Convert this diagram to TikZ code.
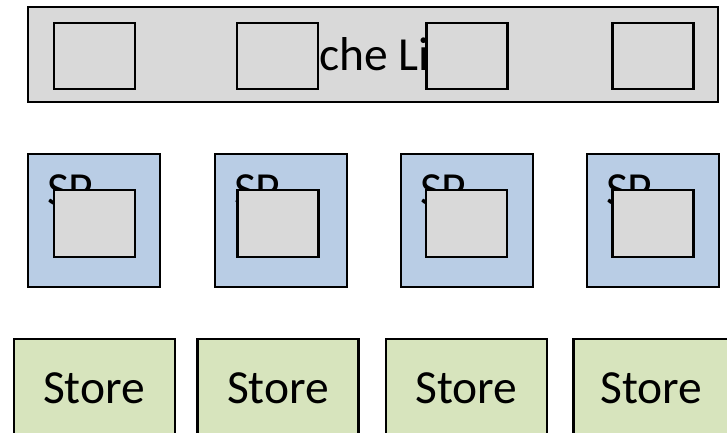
\documentclass[tikz,border=0pt]{standalone}
\usepackage{fontspec}
\setmainfont{Carlito}
\definecolor{cachegray}{HTML}{D9D9D9}
\definecolor{spblue}{HTML}{B9CDE5}
\definecolor{storegreen}{HTML}{D7E4BD}
\begin{document}
\begin{tikzpicture}[x=1pt,y=-1pt,
  boxbase/.style={draw=black, line width=2.6pt, inner sep=0pt, outer sep=0pt, rectangle},
  linebar/.style={boxbase, fill=cachegray, minimum width=690pt, minimum height=95pt},
  slot/.style={boxbase, fill=cachegray, minimum width=81pt, minimum height=66pt},
  spbox/.style={boxbase, fill=spblue, minimum width=132pt, minimum height=133pt},
  storebox/.style={boxbase, fill=storegreen, minimum width=161pt, minimum height=101pt},
  bigtext/.style={inner sep=0pt, outer sep=0pt, font=\fontsize{47.5}{52}\selectfont}
]
\useasboundingbox (0,0) rectangle (727,432);
\clip (0,0) rectangle (727,432);
\fill[white] (0,0) rectangle (727,432);

% cache line bar with its slots
\node[linebar] (bar) at (373,54.5) {};
\node[bigtext, anchor=base west] (bartext) at (319,70.5) {che Li};
\node[slot] (c1) at (94.5,56) {};
\node[slot] (c2) at (277.5,56) {};
\node[slot] (c3) at (467,56) {};
\node[slot] (c4) at (653,56) {};

% SP units, each holding a slot
\foreach \i/\x/\ix in {1/94/94.5, 2/281/278, 3/467/466.5, 4/653/653} {
  \node[spbox] (sp\i) at (\x,220.5) {};
  \node[bigtext, anchor=base west] (spt\i) at (\x-47,205.5) {SP};
  \node[slot, minimum height=67pt] (s\i) at (\ix,223.5) {};
}

% stores
\foreach \i/\x in {1/94.5, 2/278, 3/466.5, 4/654} {
  \node[storebox] (st\i) at (\x,389.5) {};
}
\node[bigtext, anchor=base] (stt1) at (94,403.5) {Store};
\node[bigtext, anchor=base] (stt2) at (278,403.5) {Store};
\node[bigtext, anchor=base] (stt3) at (466.5,403.5) {Store};
\node[bigtext, anchor=base] (stt4) at (651.5,403.5) {Store};
\end{tikzpicture}
\end{document}
